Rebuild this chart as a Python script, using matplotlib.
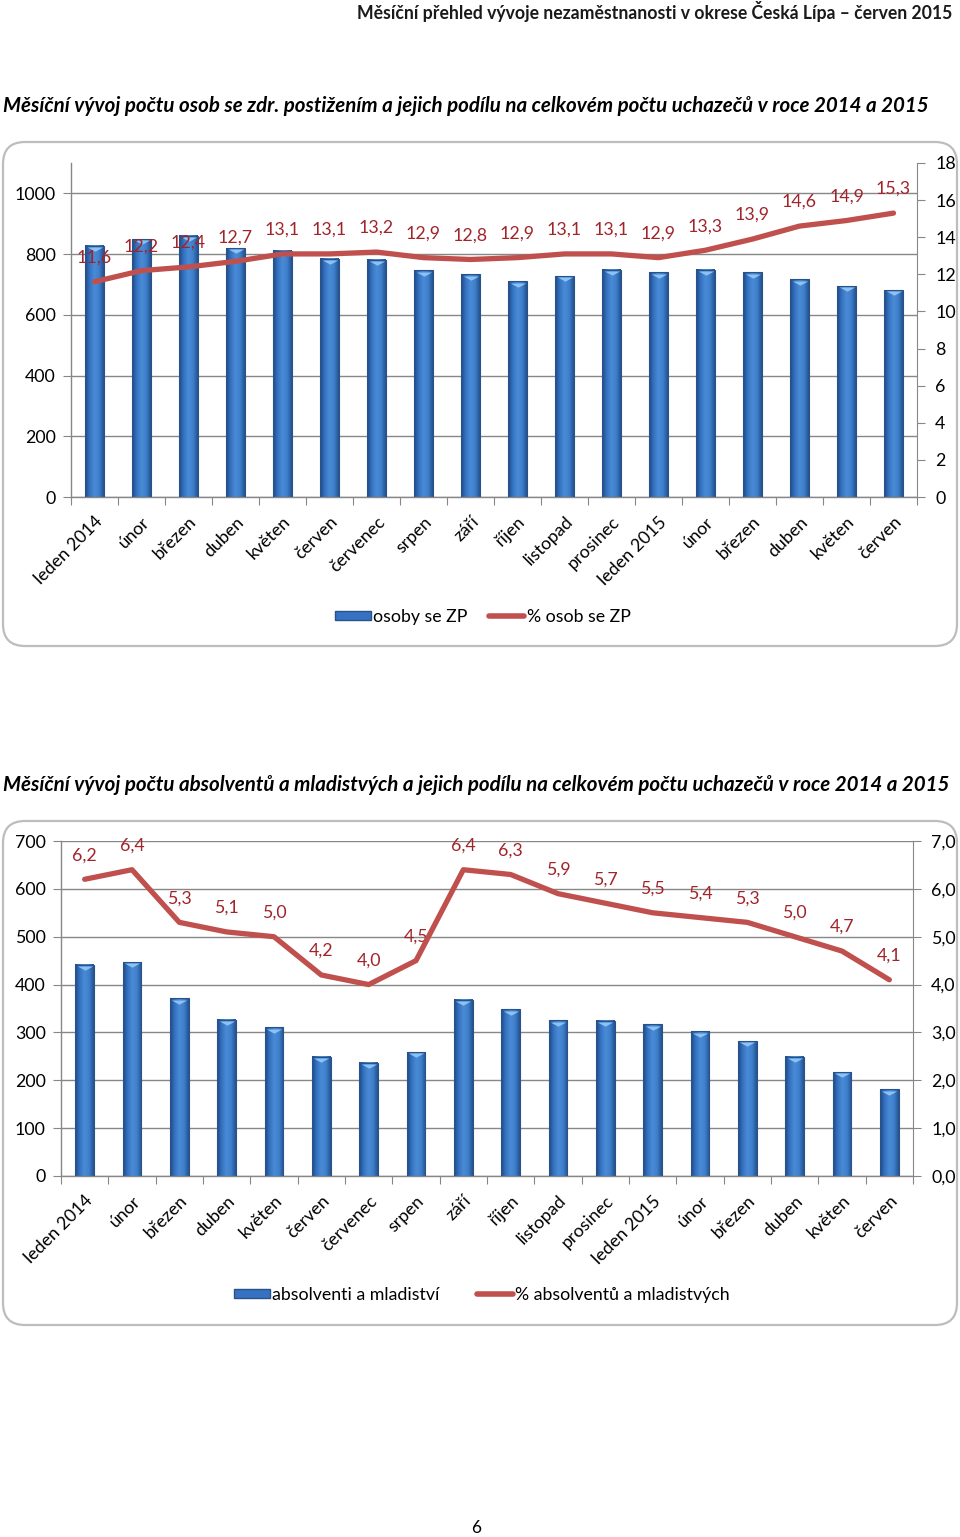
import matplotlib
matplotlib.use('Agg')
import matplotlib.pyplot as plt
import numpy as np
from matplotlib.patches import FancyBboxPatch, Patch
from matplotlib.lines import Line2D
from matplotlib.colors import LinearSegmentedColormap

plt.rcParams['font.family'] = ['Lato', 'DejaVu Sans']

months = ['leden 2014', 'únor', 'březen', 'duben', 'květen', 'červen', 'červenec',
          'srpen', 'září', 'říjen', 'listopad', 'prosinec', 'leden 2015', 'únor',
          'březen', 'duben', 'květen', 'červen']

# osoby se zdravotnim postizenim
zp_count = [827, 849, 861, 820, 811, 785, 781, 746, 733, 710, 727, 749, 740, 748, 740, 717, 694, 681]
zp_pct = [11.6, 12.2, 12.4, 12.7, 13.1, 13.1, 13.2, 12.9, 12.8, 12.9, 13.1, 13.1, 12.9, 13.3, 13.9, 14.6, 14.9, 15.3]

# absolventi a mladistvi
abs_count = [441, 447, 371, 327, 311, 249, 237, 259, 368, 348, 325, 324, 317, 302, 282, 249, 217, 181]
abs_pct = [6.2, 6.4, 5.3, 5.1, 5.0, 4.2, 4.0, 4.5, 6.4, 6.3, 5.9, 5.7, 5.5, 5.4, 5.3, 5.0, 4.7, 4.1]

W, H = 960, 1537
GRID = '#878787'
RED = '#C0504D'
LBL = '#A0242A'

fig = plt.figure(figsize=(W / 100, H / 100), dpi=100)
bar_cmap = LinearSegmentedColormap.from_list(
    'bar', ['#1E4A86', '#3573C2', '#4A8BD6', '#3F7FCC', '#23538F'])
grad = np.linspace(0, 1, 64).reshape(1, -1)


def rect(x0, y0, x1, y1):
    return [x0 / W, 1 - y1 / H, (x1 - x0) / W, (y1 - y0) / H]


def frame(x0, y0, x1, y1):
    p = FancyBboxPatch((x0 / 100, (H - y1) / 100), (x1 - x0) / 100, (y1 - y0) / 100,
                       boxstyle='round,pad=0,rounding_size=0.22',
                       transform=fig.dpi_scale_trans, facecolor='white',
                       edgecolor='#BDBDBD', linewidth=1.6, zorder=-5)
    fig.patches.append(p)


def chart(pos, counts, pcts, ymax1, ytop1, ystep1, ymax2, ystep2, fmt2,
          name_bar, name_line, leg_x, leg_y, leg_gap, bar_w):
    ax = fig.add_axes(rect(*pos))
    ax.patch.set_alpha(0)
    x = np.arange(len(counts))
    for i, v in enumerate(counts):
        ax.imshow(grad, cmap=bar_cmap, aspect='auto', zorder=2,
                  extent=(i - bar_w / 2, i + bar_w / 2, 0, v))
        ax.add_patch(plt.Rectangle((i - bar_w / 2, 0), bar_w, v, fill=False,
                                   edgecolor='#2A5188', linewidth=0.8, zorder=3))
    ax.plot(x, np.array(counts) - ymax1 * 0.004, linestyle='none', zorder=4,
            marker=[(-1, 0), (1, 0), (0, -0.55), (-1, 0)], markersize=11,
            markerfacecolor='#8CC2F2', markeredgewidth=0)
    ax.set_xlim(-0.5, len(counts) - 0.5)
    ax.set_ylim(0, ytop1)
    ax.set_yticks(np.arange(0, ymax1 + 1, ystep1))
    ax.set_axisbelow(True)
    ax.yaxis.grid(True, color=GRID, linewidth=1.0)
    ax.set_xticks(np.arange(-0.5, len(counts), 1))
    ax.set_xticklabels([])
    ax.set_xticks(x, minor=True)
    ax.set_xticklabels(months, minor=True, rotation=45, ha='right',
                       rotation_mode='anchor', fontsize=12.8)
    ax.tick_params(axis='x', which='minor', length=0, pad=12)
    ax.tick_params(axis='x', which='major', length=6, color=GRID, direction='out')
    ax.tick_params(axis='y', length=6, color=GRID, direction='out', labelsize=12.8, pad=5)
    for s in ['top', 'right']:
        ax.spines[s].set_visible(False)
    for s in ['left', 'bottom']:
        ax.spines[s].set_color(GRID)
        ax.spines[s].set_linewidth(1.0)

    ax2 = ax.twinx()
    ax2.plot(x, pcts, color=RED, linewidth=3.8, solid_capstyle='round',
             solid_joinstyle='round', zorder=5)
    for i, v in enumerate(pcts):
        ax2.annotate(f'{v:.1f}'.replace('.', ','), (i, v), xytext=(0, 24),
                     textcoords='offset pixels', ha='center', va='center',
                     color=LBL, fontsize=12.8)
    ax2.set_ylim(0, ymax2)
    ax2.set_yticks(np.arange(0, ymax2 + 0.01, ystep2))
    ax2.set_yticklabels([fmt2(t) for t in ax2.get_yticks()])
    ax2.tick_params(axis='y', length=6, color=GRID, direction='out', labelsize=12.8, pad=7)
    for s in ['top', 'left', 'bottom']:
        ax2.spines[s].set_visible(False)
    ax2.spines['right'].set_color(GRID)

    handles = [Patch(facecolor='#3573C2', edgecolor='#2A5188'),
               Line2D([0], [0], color=RED, linewidth=4, solid_capstyle='round')]
    fig.legend(handles, [name_bar, name_line], loc='center', ncol=2,
               bbox_to_anchor=(leg_x / W, 1 - leg_y / H), frameon=False,
               fontsize=12.8, handlelength=2.0, handleheight=0.45,
               handletextpad=0.15, columnspacing=leg_gap)
    return ax, ax2


# header and titles
fig.text(952 / W, 1 - 12 / H, 'Měsíční přehled vývoje nezaměstnanosti v okrese Česká Lípa – červen 2015',
         ha='right', va='center', fontsize=12.7, fontweight='bold', color='#1a1a1a')
fig.text(3 / W, 1 - 106 / H,
         'Měsíční vývoj počtu osob se zdr. postižením a jejich podílu na celkovém počtu uchazečů v roce 2014 a 2015',
         ha='left', va='center', fontsize=14.8, fontweight='bold', fontstyle='italic')
fig.text(3 / W, 1 - 785 / H,
         'Měsíční vývoj počtu absolventů a mladistvých a jejich podílu na celkovém počtu uchazečů v roce 2014 a 2015',
         ha='left', va='center', fontsize=14.8, fontweight='bold', fontstyle='italic')
fig.text(476 / W, 1 - 1528 / H, '6', ha='center', va='center', fontsize=12.5)

frame(3, 142, 957, 646)
frame(3, 821, 957, 1325)

chart((71, 163, 917, 497), zp_count, zp_pct, 1000, 1100, 200, 18, 2,
      lambda t: f'{t:.0f}', 'osoby se ZP', '% osob se ZP', 483, 617, 1.2, 0.40)
chart((61, 841, 913, 1176), abs_count, abs_pct, 700, 700, 100, 7, 1,
      lambda t: f'{t:.1f}'.replace('.', ','), 'absolventi a mladiství',
      '% absolventů a mladistvých', 482, 1295, 2.1, 0.39)

fig.savefig('out.png', dpi=100)
